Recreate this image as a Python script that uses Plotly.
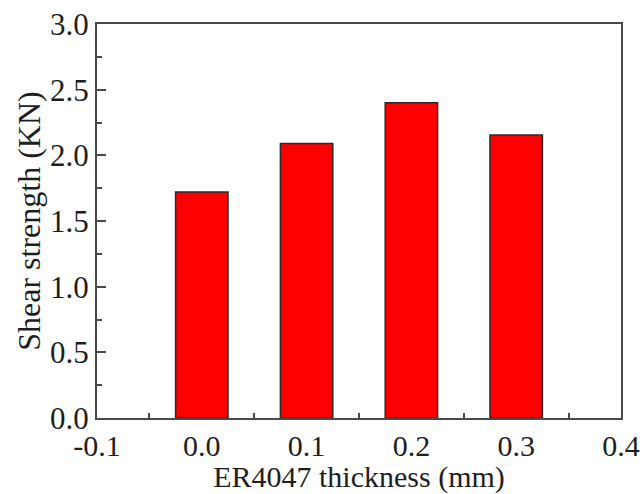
import plotly.graph_objects as go

thickness = [0.0, 0.1, 0.2, 0.3]
shear_strength = [1.72, 2.09, 2.40, 2.155]
x_tick_vals = [-0.1, 0.0, 0.1, 0.2, 0.3, 0.4]
x_tick_text = ["-0.1", "0.0", "0.1", "0.2", "0.3", "0.4"]
y_tick_vals = [0.0, 0.5, 1.0, 1.5, 2.0, 2.5, 3.0]
y_tick_text = ["0.0", "0.5", "1.0", "1.5", "2.0", "2.5", "3.0"]

FONT = "Liberation Serif"
AX = "#4a4a4a"
TXT = "#1e1e1e"

fig = go.Figure()
fig.add_trace(go.Bar(
    x=thickness, y=shear_strength, width=0.05,
    marker=dict(color="#ff0000", line=dict(color="#2a2a2a", width=1.5)),
))

fig.update_layout(
    width=644, height=494,
    margin=dict(l=97, r=23, t=24, b=76),
    paper_bgcolor="white", plot_bgcolor="white",
    showlegend=False,
    font=dict(family=FONT, color=TXT),
)
fig.update_xaxes(
    range=[-0.1, 0.4], tickvals=x_tick_vals, ticktext=x_tick_text,
    ticks="inside", ticklen=8, tickwidth=1.5, tickcolor=AX,
    minor=dict(ticks="inside", ticklen=5, tickwidth=1.5, tickcolor=AX, dtick=0.05, showgrid=False),
    showline=True, linecolor=AX, linewidth=2, mirror=True,
    showgrid=False, zeroline=False, layer="below traces", automargin=False,
    tickfont=dict(family=FONT, size=30, color=TXT), ticklabelstandoff=0,
    title=dict(text="ER4047 thickness (mm)", font=dict(family=FONT, size=30, color=TXT), standoff=2),
)
fig.update_yaxes(
    range=[0, 3], tickvals=y_tick_vals, ticktext=y_tick_text,
    ticks="inside", ticklen=9, tickwidth=1.5, tickcolor=AX,
    minor=dict(ticks="inside", ticklen=5, tickwidth=1.5, tickcolor=AX, dtick=0.25, showgrid=False),
    showline=True, linecolor=AX, linewidth=2, mirror=True,
    showgrid=False, zeroline=False, layer="below traces", automargin=False,
    tickfont=dict(family=FONT, size=31, color=TXT),
    title=dict(text="Shear strength (KN)", font=dict(family=FONT, size=32, color=TXT), standoff=0),
)

fig.write_html("out.html")
